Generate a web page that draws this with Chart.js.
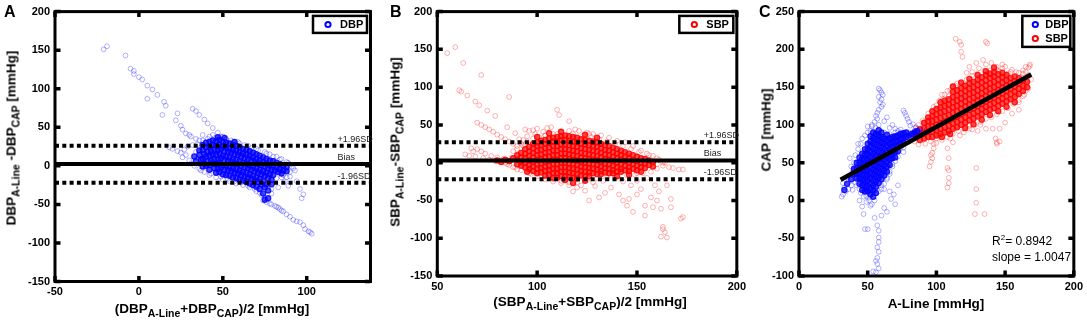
<!DOCTYPE html>
<html>
<head>
<meta charset="utf-8">
<script src="https://cdn.jsdelivr.net/npm/chart.js@4.4.1/dist/chart.umd.min.js"></script>
<style>
  body { margin: 0; width: 1087px; height: 327px; background: #fff; position: relative; overflow: hidden;
         font-family: "Liberation Sans", Arial, Helvetica, sans-serif; }
  canvas { position: absolute; top: 0; }
  .t { position: absolute; font-weight: bold; font-size: 13.5px; line-height: 13px; white-space: nowrap; color: #000; }
  .t sub { font-size: 10.5px; line-height: 0; vertical-align: -4px; }
  .yt { transform: translate(-50%, -50%) rotate(-90deg); }
  .xt { transform: translateX(-50%); }
  .lt { position: absolute; font-weight: bold; font-size: 16px; line-height: 16px; }
  .ann { position: absolute; font-size: 12px; line-height: 12px; white-space: nowrap; }
  .ann sup { font-size: 8px; line-height: 0; vertical-align: 5px; }
</style>
</head>
<body>
<canvas id="cA" width="380" height="327" style="left:0"></canvas>
<canvas id="cB" width="390" height="327" style="left:360px"></canvas>
<canvas id="cC" width="337" height="327" style="left:750px"></canvas>

<div class="lt" style="left:4px;top:4px">A</div>
<div class="lt" style="left:390px;top:4px">B</div>
<div class="lt" style="left:759px;top:4px">C</div>

<div class="t yt" style="left:11px;top:138px">DBP<sub>A-Line</sub> -DBP<sub>CAP</sub> [mmHg]</div>
<div class="t xt" style="left:212px;top:302px">(DBP<sub>A-Line</sub>+DBP<sub>CAP</sub>)/2 [mmHg]</div>
<div class="t yt" style="left:395px;top:142px">SBP<sub>A-Line</sub>-SBP<sub>CAP</sub> [mmHg]</div>
<div class="t xt" style="left:590px;top:295px">(SBP<sub>A-Line</sub>+SBP<sub>CAP</sub>)/2 [mmHg]</div>
<div class="t yt" style="left:766px;top:130px">CAP [mmHg]</div>
<div class="t xt" style="left:936px;top:297px">A-Line [mmHg]</div>
<div class="ann" style="left:992px;top:235px">R<sup>2</sup>= 0.8942</div>
<div class="ann" style="left:992px;top:251px">slope = 1.0047</div>

<script>
// ---- data ----
const seriesNames = ['DBP', 'SBP'];

// panel A: DBP Bland-Altman (mean, difference)
const dbpSpreadA = [[-21,151],[-19,155],[-8,143],[-5,126],[-3,123],[-3,119],[0,115],[2,112],[5,104],[8,99],[5,87],[11,92],[15,83],[16,78],[14,66],[23,68],[22,59],[25,52],
  [32,74],[34,71],[36,66],[39,60],[41,55],[44,49],[47,43],[49,38],[52,35],[26,47],[28,42],[30,40],[31,38],[34,35],[36,33],
  [18,24],[20,22],[23,19],[25,17],[26,11],[28,14],[30,7],[31,3],[33,0],[27,21],[29,25],[32,27],[35,28],
  [38,40],[42,38],[45,36],[48,37],[52,34],[56,31],[60,29],[63,27],[67,23],[71,20],[75,18],[78,15],[82,12],[85,9],[88,5],[90,2],[92,-3],[93,-6],[91,-1],
  [36,-4],[39,-8],[42,-12],[46,-15],[50,-18],[54,-20],[58,-23],[62,-25],[66,-28],[70,-33],[73,-38],[75,-42],[79,-36],[83,-28],[87,-20],[90,-14],[94,-20],[96,-30],[97,-42],[98,-37],[89,-26],[85,-15],
  [74,-45],[76,-47],[79,-50],[82,-53],[84,-56],[86,-59],[88,-63],[90,-66],[92,-70],[94,-72],[96,-73],[98,-77],[99,-82],[101,-85],[103,-88],[102,-86],[78,-49],[81,-52],[83,-54],[85,-58],
  [38,33],[41,35],[50,38],[55,33],[59,31],[65,26],[70,22],[76,16],[80,12],[84,8],[89,4],[35,10],[34,18],[37,-6],[43,-10],[49,-14],[53,-17],[57,-20],[61,-22],
  [65,-26],[69,-30],[72,-35],[78,-22],[82,-16],[86,-12],[90,-8],[44,40],[53,28],[66,20],[74,-26],[79,-30],[88,-15]];
const dbpCoreA = [[36,20],[36,14],[37,8],[38,27],[38,21],[39,15],[38,9],[39,3],[38,-1],[40,30],[40,24],[41,18],[40,12],[41,6],[40,0],
  [42,31],[42,25],[43,19],[42,13],[43,7],[42,1],[42,-5],[44,33],[44,27],[45,21],[44,15],[45,9],[44,3],[45,-3],
  [46,32],[46,26],[47,20],[46,14],[47,8],[46,2],[47,-4],[46,-9],[48,34],[48,28],[49,22],[48,16],[49,10],[48,4],[49,-2],[48,-8],
  [50,31],[50,25],[51,19],[50,13],[51,7],[50,1],[51,-5],[50,-11],[52,30],[52,24],[53,18],[52,12],[53,6],[52,0],[53,-6],[52,-12],
  [54,29],[54,23],[55,17],[54,11],[55,5],[54,-1],[55,-7],[54,-13],[56,27],[56,21],[57,15],[56,9],[57,3],[56,-3],[57,-9],[56,-15],
  [58,26],[58,20],[59,14],[58,8],[59,2],[58,-4],[59,-10],[58,-16],[60,24],[60,18],[61,12],[60,6],[61,0],[60,-6],[61,-12],[60,-18],
  [62,22],[62,16],[63,10],[62,4],[63,-2],[62,-8],[63,-14],[62,-19],[64,21],[64,15],[65,9],[64,3],[65,-3],[64,-9],[65,-15],[64,-21],
  [66,19],[66,13],[67,7],[66,1],[67,-5],[66,-11],[67,-17],[66,-23],[68,17],[68,11],[69,5],[68,-1],[69,-7],[68,-13],[69,-19],[68,-25],
  [70,15],[70,9],[71,3],[70,-3],[71,-9],[70,-15],[71,-21],[70,-27],[72,13],[72,7],[73,1],[72,-5],[73,-11],[72,-17],[73,-24],[72,-30],
  [74,11],[74,5],[75,-1],[74,-7],[75,-13],[74,-20],[75,-28],[76,9],[76,3],[77,-3],[76,-9],[77,-16],[76,-24],[77,-32],
  [78,7],[78,1],[79,-5],[78,-11],[79,-18],[80,6],[80,0],[81,-6],[80,-12],[82,4],[82,-2],[83,-8],[84,2],[84,-4],[85,-10],[86,0],[86,-6],[88,-2],[88,-7],
  [33,12],[34,6],[47,37],[51,36],[57,31],[74,-36],[75,-44],[77,-42],[79,-24]];
const limitsA = { upper: 26, bias: 2.5, lower: -22 };

// panel B: SBP Bland-Altman
const sbpSpreadB = [[55,145],[59,153],[63,132],[72,116],[61,96],[62,94],[65,89],[69,81],[71,76],[75,69],[79,62],[86,87],[85,47],[89,39],[110,70],[111,63],[116,55],
  [70,53],[72,50],[74,47],[76,44],[78,41],[80,37],[82,34],[84,31],[86,28],[88,25],[90,22],
  [64,11],[66,9],[67,19],[68,15],[70,18],[72,15],[74,12],[77,9],[80,7],[82,3],[84,0],[86,-3],[88,-6],[90,-9],[79,2],[83,5],[87,6],[76,4],[73,6],[69,8],[85,-2],
  [94,44],[96,42],[98,43],[100,45],[103,41],[105,46],[107,47],[104,36],[99,38],[95,35],[93,30],[92,25],[91,31],
  [119,44],[121,42],[125,40],[128,38],[132,36],[136,33],[140,29],[144,27],[148,22],[152,16],[156,10],[160,6],[163,-4],[166,-6],[168,-7],[171,-9],[173,-9],[160,-2],[164,0],
  [96,-10],[100,-14],[104,-18],[108,-22],[112,-27],[116,-30],[120,-33],[124,-37],[126,-50],[129,-31],[131,-46],[134,-40],[137,-33],[141,-42],[143,-50],[145,-57],[146,-48],[148,-65],[150,-42],[152,-35],[154,-57],[154,-70],[157,-46],[158,-59],[160,-50],[162,-61],[163,-85],[163,-88],[164,-92],[162,-98],[165,-99],[167,-48],[167,-59],[173,-72],[172,-74],
  [139,-20],[143,-25],[147,-30],[150,-24],[155,-20],[159,-30],[161,-38],[165,-30],[118,-38],[122,-30],[128,-26],[133,-24],[110,-16],[114,-20],[106,-8],[102,-6],
  [88,15],[90,18],[93,22],[95,28],[98,32],[101,34],[104,36],[108,38],[112,40],[116,42],[118,38],[123,36],[127,34],[131,31],[135,28],[139,25],[143,22],[147,18],[151,14],[155,12],[158,9],[161,4],[163,0],
  [160,-8],[157,-12],[153,-14],[149,-16],[145,-17],[140,-18],[135,-20],[130,-21],[125,-23],[120,-26],[116,-26],[112,-24],[108,-25],[104,-22],[100,-18],[96,-14],[92,-10],[89,-6],[87,3],
  [120,30],[110,38],[126,38],[145,10],[150,-14],[94,24],[97,-15]];
const sbpCoreB = [[90,10],[90,4],[90,-2],[92,13],[92,7],[92,1],[92,-4],[94,18],[94,12],[94,6],[94,0],[94,-6],[96,21],[96,15],[96,9],[96,3],[96,-3],[96,-8],
  [98,25],[98,19],[98,13],[98,7],[98,1],[98,-5],[98,-11],[100,27],[100,22],[100,16],[100,10],[100,4],[100,-2],[100,-8],[100,-14],
  [102,29],[102,23],[102,17],[102,11],[102,5],[102,-1],[102,-7],[102,-13],[104,30],[104,25],[104,19],[104,13],[104,7],[104,1],[104,-5],[104,-11],[104,-17],
  [106,32],[106,26],[106,20],[106,14],[106,8],[106,2],[106,-4],[106,-10],[106,-16],[108,33],[108,28],[108,22],[108,16],[108,10],[108,4],[108,-2],[108,-8],[108,-14],[108,-20],
  [110,34],[110,28],[110,22],[110,16],[110,10],[110,4],[110,-2],[110,-8],[110,-14],[110,-20],[112,35],[112,30],[112,24],[112,18],[112,12],[112,6],[112,0],[112,-6],[112,-12],[112,-18],
  [114,36],[114,30],[114,24],[114,18],[114,12],[114,6],[114,0],[114,-6],[114,-12],[114,-18],[114,-23],[116,35],[116,29],[116,23],[116,17],[116,11],[116,5],[116,-1],[116,-7],[116,-13],[116,-19],
  [118,34],[118,28],[118,22],[118,16],[118,10],[118,4],[118,-2],[118,-8],[118,-14],[118,-20],[120,33],[120,27],[120,21],[120,15],[120,9],[120,3],[120,-3],[120,-9],[120,-15],[120,-21],
  [122,31],[122,25],[122,19],[122,13],[122,7],[122,1],[122,-5],[122,-11],[122,-17],[124,30],[124,24],[124,18],[124,12],[124,6],[124,0],[124,-6],[124,-12],[124,-18],
  [126,29],[126,23],[126,17],[126,11],[126,5],[126,-1],[126,-7],[126,-13],[126,-18],[128,28],[128,22],[128,16],[128,10],[128,4],[128,-2],[128,-8],[128,-14],
  [130,27],[130,21],[130,15],[130,9],[130,3],[130,-3],[130,-9],[130,-15],[132,25],[132,19],[132,13],[132,7],[132,1],[132,-5],[132,-11],[132,-15],
  [134,23],[134,17],[134,11],[134,5],[134,-1],[134,-7],[134,-13],[136,22],[136,16],[136,10],[136,4],[136,-2],[136,-8],[136,-14],
  [138,20],[138,14],[138,8],[138,2],[138,-4],[138,-10],[138,-14],[140,18],[140,12],[140,6],[140,0],[140,-6],[140,-12],[142,16],[142,10],[142,4],[142,-2],[142,-8],[142,-12],
  [144,14],[144,8],[144,2],[144,-4],[144,-10],[146,12],[146,6],[146,0],[146,-6],[146,-11],[148,10],[148,4],[148,-2],[148,-8],[150,8],[150,2],[150,-4],[150,-10],
  [152,6],[152,0],[152,-6],[154,5],[154,-1],[154,-7],[156,3],[156,-3],[158,1],[158,-5],
  [100,34],[106,39],[112,41],[124,37],[130,33],[118,-27],[124,-24],[140,-18],[88,6],[86,2],[84,4],[82,1],[80,3],[95,-12],[146,-16],[152,-12]];
const limitsB = { upper: 27, bias: 3, lower: -22 };

// panel C: CAP vs A-Line
const dbpSpreadC = [[58,148],[59,146],[60,143],[61,140],[58,137],[60,134],[59,130],[61,127],[60,124],[58,120],[57,116],[56,112],[57,108],[55,104],[58,100],[56,96],[53,98],[52,92],
  [76,119],[77,116],[78,112],[79,108],[80,104],[83,101],[81,99],[85,97],[88,95],[90,93],[87,90],[84,88],
  [32,8],[33,17],[36,25],[32,23],[37,56],[39,38],[34,12],[31,5],[35,30],[38,45],[40,50],[41,24],[39,14],[37,33],
  [51,4],[53,-5],[52,-7],[47,-18],[48,-38],[50,-38],[55,-23],[57,-33],[58,-40],[58,-49],[58,-55],[57,-62],[58,-68],[57,-76],[57,-84],[54,-94],[56,-95],[58,-90],[56,-80],
  [70,-5],[69,8],[67,2],[62,-10],[64,-15],[60,-20],[66,12],[72,20],[44,0],[46,-8],[49,-2],[45,10],[47,5],
  [66,96],[68,100],[70,95],[72,92],[74,90],[62,105],[64,110],[50,90],[48,86],[45,75],[43,68],[80,90],[82,86],[84,92],[86,88],[78,78],[74,70],[70,52],[68,45],[66,35],[64,28],[60,20],[62,15],[76,64],
  [40,40],[41,60],[43,75],[46,82],[50,98],[53,100],[47,12],[49,6],[51,0],[55,0],[58,12],[60,15],[62,22],[64,30],[66,38],[68,48],[72,58],[76,70],[80,78],[82,82],[85,84],[88,86],[90,90],
  [70,90],[74,94],[62,90],[66,88],[44,15],[40,30],[38,20],[36,15],[42,20]];
const dbpCoreC = [[42,50],[42,43],[42,36],[42,29],[44,57],[44,50],[44,43],[44,36],[44,29],[44,22],[46,62],[46,55],[46,48],[46,41],[46,34],[46,27],[46,20],
  [48,68],[48,61],[48,54],[48,47],[48,40],[48,33],[48,26],[48,19],[50,75],[50,68],[50,61],[50,54],[50,47],[50,40],[50,33],[50,26],[50,19],[50,12],
  [52,85],[52,78],[52,71],[52,64],[52,57],[52,50],[52,43],[52,36],[52,29],[52,22],[52,15],[52,8],[54,90],[54,83],[54,76],[54,69],[54,62],[54,55],[54,48],[54,41],[54,34],[54,27],[54,20],[54,13],[54,5],
  [56,88],[56,81],[56,74],[56,67],[56,60],[56,53],[56,46],[56,39],[56,32],[56,25],[56,18],[56,10],[58,86],[58,79],[58,72],[58,65],[58,58],[58,51],[58,44],[58,37],[58,30],[58,23],
  [60,84],[60,77],[60,70],[60,63],[60,56],[60,49],[60,42],[60,35],[60,28],[62,82],[62,75],[62,68],[62,61],[62,54],[62,47],[62,40],[62,33],
  [64,80],[64,73],[64,66],[64,59],[64,52],[64,45],[64,38],[66,82],[66,75],[66,68],[66,61],[66,54],[66,47],[68,84],[68,77],[68,70],[68,63],[68,56],
  [70,85],[70,78],[70,71],[70,64],[70,57],[72,86],[72,79],[72,72],[72,65],[74,88],[74,81],[74,74],[76,89],[76,82],[78,90],[78,84],
  [40,35],[40,42],[46,14],[48,12],[60,90],[58,93],[64,87],[76,76],[80,86],[82,88],[84,90],[86,92],[38,28],[35,22],[33,14]];
const sbpSpreadC = [[114,214],[117,210],[118,206],[119,190],[118,197],[136,210],[137,208],[134,186],[136,180],[144,177],[146,171],[129,182],[124,177],[122,169],[126,170],[131,175],[140,182],[150,177],[160,169],[165,177],[168,178],[167,176],[163,172],[152,168],[155,173],[148,180],
  [105,134],[102,121],[98,117],[95,104],[93,95],[100,82],[102,86],[110,82],[112,77],[104,140],[108,145],[112,150],[88,92],[90,88],[86,95],[96,110],[100,126],[107,128],[109,138],
  [98,69],[96,60],[96,51],[95,45],[97,56],[97,63],[98,75],
  [108,69],[109,56],[108,43],[109,30],[108,17],[109,40],[109,23],[129,43],[129,15],[129,-3],[128,-18],[135,-18],[144,77],[144,75],[126,94],[130,92],
  [168,180],[165,170],[162,163],[164,150],[166,160],[158,140],[160,130],[150,103],[146,95],[141,95],[136,95],[143,82],[146,78],[117,86],[124,95],[120,90],[132,100],[155,115],[160,120],[163,138],[165,145],[158,155],[150,160],[140,165],[130,160],[120,150],[115,155],
  [84,78],[87,74],[92,75],[96,78],[100,76],[104,80],[108,84],[112,88],[116,92],[120,95],[124,99],[128,100],[132,104],[136,108],[140,110],[144,114],[148,118],[152,122],[156,128],[160,133],[164,140],[167,148],[169,160],
  [167,166],[163,168],[158,170],[154,170],[148,175],[144,173],[139,172],[135,172],[130,168],[126,165],[122,160],[118,157],[114,152],[110,146],[106,140],[102,132],[98,124],[94,115],[90,106],[87,100],[85,96],[96,90],[100,95]];
const sbpCoreC = [[85,85],[85,90],[88,80],[88,87],[88,94],[91,82],[91,89],[91,96],[91,103],[94,84],[94,91],[94,98],[94,105],[94,110],
  [97,84],[97,91],[97,98],[97,105],[97,112],[97,118],[100,86],[100,93],[100,100],[100,107],[100,114],[100,121],
  [103,88],[103,95],[103,102],[103,109],[103,116],[103,123],[103,130],[106,90],[106,97],[106,104],[106,111],[106,118],[106,125],[106,132],
  [109,92],[109,99],[109,106],[109,113],[109,120],[109,127],[109,134],[112,95],[112,102],[112,109],[112,116],[112,123],[112,130],[112,137],[112,144],
  [115,97],[115,104],[115,111],[115,118],[115,125],[115,132],[115,139],[115,146],[118,100],[118,107],[118,114],[118,121],[118,128],[118,135],[118,142],[118,149],
  [121,103],[121,110],[121,117],[121,124],[121,131],[121,138],[121,145],[121,152],[124,106],[124,113],[124,120],[124,127],[124,134],[124,141],[124,148],[124,155],
  [127,108],[127,115],[127,122],[127,129],[127,136],[127,143],[127,150],[127,157],[130,111],[130,118],[130,125],[130,132],[130,139],[130,146],[130,153],[130,160],
  [133,114],[133,121],[133,128],[133,135],[133,142],[133,149],[133,156],[133,163],[136,117],[136,124],[136,131],[136,138],[136,145],[136,152],[136,159],[136,166],
  [139,120],[139,127],[139,134],[139,141],[139,148],[139,155],[139,162],[139,168],[142,122],[142,129],[142,136],[142,143],[142,150],[142,157],[142,164],[142,170],
  [145,125],[145,132],[145,139],[145,146],[145,153],[145,160],[145,167],[148,128],[148,135],[148,142],[148,149],[148,156],[148,163],[148,169],
  [151,131],[151,138],[151,145],[151,152],[151,159],[151,166],[154,134],[154,141],[154,148],[154,155],[154,162],[157,137],[157,144],[157,151],[157,158],[157,164],
  [160,141],[160,148],[160,155],[160,162],[163,145],[163,152],[163,159],[166,150],[166,157],
  [121,96],[127,101],[133,107],[139,113],[145,118],[151,124],[157,130],[112,151],[118,156],[124,161],[130,166],[136,171],[142,176],[104,84],[110,88]];
const fitLineX = [30.3, 169];
const fitLineY = [27.4, 166.8];

// ---- styling ----
const FONT = '"Liberation Sans", Arial, Helvetica, sans-serif';
const BLUE = 'rgb(0,0,255)', RED = 'rgb(255,0,0)';
Chart.defaults.font.family = FONT;

const toXY = arr => arr.map(p => ({ x: p[0], y: p[1] }));

function spread(data, rgb) {
  return { data: toXY(data), pointRadius: 2.4, pointBorderWidth: 1, borderColor: 'rgba(' + rgb + ',0.3)',
           backgroundColor: 'rgba(0,0,0,0)', order: 2 };
}
function core(data, rgb) {
  return { data: toXY(data), pointRadius: 2.6, pointBorderWidth: 1.2, borderColor: 'rgba(' + rgb + ',0.85)',
           backgroundColor: 'rgba(' + rgb + ',0.7)', order: 2 };
}
function hline(xmin, xmax, v, dashed) {
  return { data: [{ x: xmin, y: v }, { x: xmax, y: v }], showLine: true, pointRadius: 0, borderColor: '#000',
           borderWidth: 4, borderDash: dashed ? [4, 3.3] : [], borderCapStyle: 'butt', order: 0 };
}

// box, inward ticks
const framePlugin = {
  id: 'frame',
  afterDatasetsDraw(chart) {
    const { ctx, chartArea: a, scales } = chart;
    ctx.save();
    ctx.strokeStyle = '#000';
    ctx.lineWidth = 3;
    ctx.strokeRect(a.left, a.top, a.right - a.left, a.bottom - a.top);
    ctx.beginPath();
    scales.x.ticks.forEach(t => {
      const p = scales.x.getPixelForValue(t.value);
      ctx.moveTo(p, a.bottom); ctx.lineTo(p, a.bottom - 5.5);
      ctx.moveTo(p, a.top); ctx.lineTo(p, a.top + 5.5);
    });
    scales.y.ticks.forEach(t => {
      const p = scales.y.getPixelForValue(t.value);
      ctx.moveTo(a.left, p); ctx.lineTo(a.left + 5.5, p);
      ctx.moveTo(a.right, p); ctx.lineTo(a.right - 5.5, p);
    });
    ctx.lineWidth = 3.5;
    ctx.stroke();
    ctx.restore();
  }
};

// labels for the limit lines
const limitLabels = {
  id: 'limitLabels',
  afterDraw(chart, args, o) {
    if (!o.lines) return;
    const { ctx, chartArea: a, scales: { y } } = chart;
    ctx.save();
    ctx.font = '9px ' + FONT;
    ctx.fillStyle = '#222';
    ctx.textBaseline = 'bottom';
    o.lines.forEach(l => ctx.fillText(l.text, a.right - 33, y.getPixelForValue(l.value) - 2));
    ctx.restore();
  }
};

// legend inside the axes, matlab style
const boxLegend = {
  id: 'boxLegend',
  afterDraw(chart, args, o) {
    if (!o.items) return;
    const { ctx, chartArea: a } = chart;
    const h = 17 + 14 * (o.items.length - 1);
    const x0 = a.right - 3.5 - o.w, y0 = a.top + 4.3;
    ctx.save();
    ctx.fillStyle = '#fff';
    ctx.fillRect(x0, y0, o.w, h);
    ctx.lineWidth = 2.5;
    ctx.strokeStyle = '#000';
    ctx.strokeRect(x0, y0, o.w, h);
    o.items.forEach((it, i) => {
      const cy = y0 + 8.6 + 14 * i;
      ctx.beginPath();
      ctx.arc(x0 + o.mx, cy, 2.6, 0, Math.PI * 2);
      ctx.lineWidth = 2;
      ctx.strokeStyle = it.color;
      ctx.stroke();
      ctx.fillStyle = '#000';
      ctx.font = 'bold 11px ' + FONT;
      ctx.textBaseline = 'middle';
      ctx.fillText(it.label, x0 + o.tx, cy + 0.5);
    });
    ctx.restore();
  }
};

Chart.register(framePlugin, limitLabels, boxLegend);

function axis(min, max, size, isX) {
  return {
    type: 'linear', min: min, max: max,
    ticks: { stepSize: 50, includeBounds: false, autoSkip: false, maxRotation: 0, padding: isX ? 4 : 5,
             color: '#000', font: { size: 11, weight: 'bold' } },
    grid: { display: false, drawTicks: false },
    border: { display: false },
    afterFit: s => { if (isX) s.height = size; else s.width = size; }
  };
}

function makeChart(id, cfg) {
  return new Chart(document.getElementById(id), {
    type: 'scatter',
    data: { datasets: cfg.datasets },
    options: {
      responsive: false, animation: false, events: [],
      layout: { padding: { left: 0, right: cfg.padR, top: cfg.padT, bottom: 0 } },
      plugins: { legend: { display: false }, tooltip: { enabled: false },
                 boxLegend: cfg.legend, limitLabels: { lines: cfg.lines } },
      scales: { x: axis(cfg.x[0], cfg.x[1], cfg.xh, true), y: axis(cfg.y[0], cfg.y[1], cfg.yw, false) }
    }
  });
}

// A
makeChart('cA', {
  x: [-50, 138], y: [-150, 200], xh: 45.5, yw: 55, padR: 9.5, padT: 9,
  datasets: [spread(dbpSpreadA, '0,0,255'), core(dbpCoreA, '0,0,255'),
             hline(-50, 138, limitsA.upper, true), hline(-50, 138, limitsA.bias, false), hline(-50, 138, limitsA.lower, true)],
  lines: [{ value: limitsA.upper, text: '+1.96SD' }, { value: limitsA.bias, text: 'Bias' }, { value: limitsA.lower, text: '-1.96SD' }],
  legend: { items: [{ label: seriesNames[0], color: BLUE }], w: 54, mx: 15, tx: 27 }
});

// B
makeChart('cB', {
  x: [50, 200], y: [-150, 200], xh: 51, yw: 77.3, padR: 4.6, padT: 9,
  datasets: [spread(sbpSpreadB, '255,0,0'), core(sbpCoreB, '255,0,0'),
             hline(50, 200, limitsB.upper, true), hline(50, 200, limitsB.bias, false), hline(50, 200, limitsB.lower, true)],
  lines: [{ value: limitsB.upper, text: '+1.96SD' }, { value: limitsB.bias, text: 'Bias' }, { value: limitsB.lower, text: '-1.96SD' }],
  legend: { items: [{ label: seriesNames[1], color: RED }], w: 54, mx: 15, tx: 27 }
});

// C
makeChart('cC', {
  x: [0, 200], y: [-100, 250], xh: 51, yw: 49, padR: 12.7, padT: 7.3,
  datasets: [spread(dbpSpreadC, '0,0,255'), core(dbpCoreC, '0,0,255'),
             spread(sbpSpreadC, '255,0,0'), core(sbpCoreC, '255,0,0'),
             { data: [{ x: fitLineX[0], y: fitLineY[0] }, { x: fitLineX[1], y: fitLineY[1] }], showLine: true, pointRadius: 0,
               borderColor: '#000', borderWidth: 4.5, order: 0 }],
  legend: { items: [{ label: seriesNames[0], color: BLUE }, { label: seriesNames[1], color: RED }], w: 48, mx: 13, tx: 23 }
});
</script>
</body>
</html>
